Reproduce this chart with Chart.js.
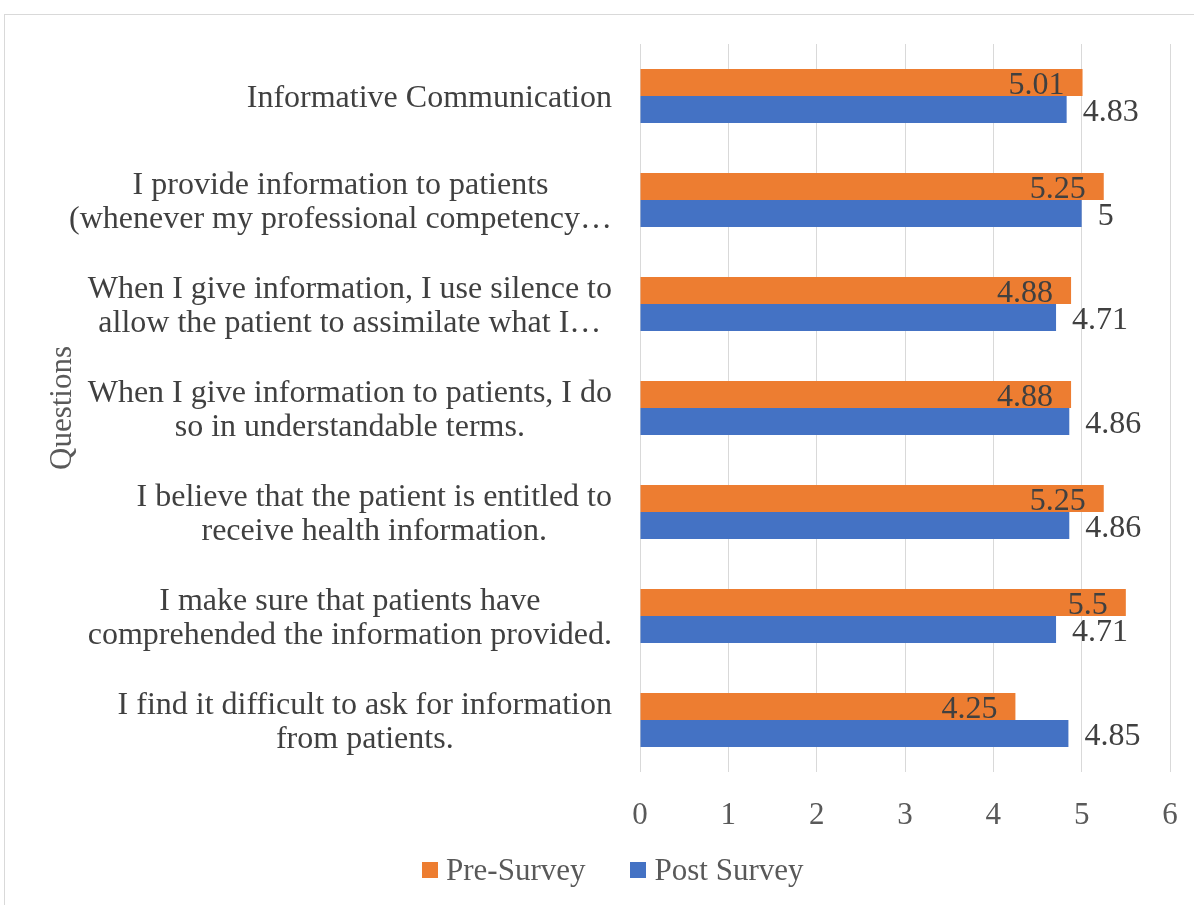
<!DOCTYPE html>
<html>
<head>
<meta charset="utf-8">
<script src="https://cdn.jsdelivr.net/npm/chart.js@4"></script>
<style>
  body { margin: 0; background: #fff; overflow: hidden; }
  #moldura { position: absolute; left: 4px; top: 14px; width: 1194px; height: 900px; border: 1px solid #d9d9d9; }
  #caixa { position: absolute; left: 0; top: 0; width: 1194px; height: 905px; }
  #legenda { position: absolute; left: 422px; top: 850px; height: 40px; display: flex; align-items: center;
             font: 31px "Liberation Serif", "Times New Roman", serif; color: #595959; white-space: nowrap; }
  #legenda .item { display: inline-flex; align-items: center; margin-right: 45px; }
  #legenda .item i { display: inline-block; width: 16px; height: 16px; margin-right: 8px; }
</style>
</head>
<body>
<div id="moldura"></div>
<div id="caixa"><canvas id="myChart"></canvas></div>
<div id="legenda"></div>
<script>
// Dados
var perguntas = [
  'Informative Communication',
  ['I provide information to patients', '(whenever my professional competency\u2026'],
  ['When I give information, I use silence to', 'allow the patient to assimilate what I\u2026'],
  ['When I give information to patients, I do', 'so in understandable terms.'],
  ['I believe that the patient is entitled to', 'receive health information.'],
  ['I make sure that patients have', 'comprehended the information provided.'],
  ['I find it difficult to ask for information', 'from patients.']
];
var preSurvey = [5.01, 5.25, 4.88, 4.88, 5.25, 5.5, 4.25];
var postSurvey = [4.83, 5, 4.71, 4.86, 4.86, 4.71, 4.85];
var ticksX = [0, 1, 2, 3, 4, 5, 6];

var fonte = '"Liberation Serif", "Times New Roman", serif';

// rotulos das perguntas, linhas centralizadas e bloco alinhado a direita
var rotulosPerguntas = {
  id: 'rotulosPerguntas',
  afterDraw: function(chart) {
    var ctx = chart.ctx;
    var eixo = chart.scales.y;
    var direita = chart.chartArea.left - 28;
    ctx.save();
    ctx.font = '32px ' + fonte;
    ctx.fillStyle = '#404040';
    ctx.textAlign = 'center';
    ctx.textBaseline = 'middle';
    perguntas.forEach(function(p, i) {
      var linhas = Array.isArray(p) ? p : [p];
      var largura = Math.max.apply(null, linhas.map(function(l) { return ctx.measureText(l).width; }));
      var cx = direita - largura / 2;
      var y0 = eixo.getPixelForValue(i) + 3 - (linhas.length - 1) * 34 / 2;
      linhas.forEach(function(l, k) { ctx.fillText(l, cx, y0 + k * 34); });
    });
    ctx.restore();
  }
};

// valores nas barras
var rotulosValores = {
  id: 'rotulosValores',
  afterDatasetsDraw: function(chart) {
    var ctx = chart.ctx;
    ctx.save();
    ctx.font = '32px ' + fonte;
    ctx.fillStyle = '#404040';
    ctx.textBaseline = 'middle';
    chart.data.datasets.forEach(function(ds, d) {
      chart.getDatasetMeta(d).data.forEach(function(barra, i) {
        var txt = String(ds.data[i]);
        if (d === 0) {
          ctx.textAlign = 'right';
          ctx.fillText(txt, barra.x - 18, barra.y + 3);
        } else {
          ctx.textAlign = 'left';
          ctx.fillText(txt, barra.x + 16, barra.y + 3);
        }
      });
    });
    ctx.restore();
  }
};

var ctx = document.getElementById('myChart').getContext('2d');
var myChart = new Chart(ctx, {
  type: 'bar',
  data: {
    labels: perguntas,
    datasets: [{
      label: 'Pre-Survey',
      data: preSurvey,
      backgroundColor: '#ED7D31',
      categoryPercentage: 0.52,
      barPercentage: 1
    }, {
      label: 'Post Survey',
      data: postSurvey,
      backgroundColor: '#4472C4',
      categoryPercentage: 0.52,
      barPercentage: 1
    }]
  },
  options: {
    indexAxis: 'y',
    responsive: true,
    maintainAspectRatio: false,
    animation: false,
    layout: { padding: { top: 44, right: 24, bottom: 60, left: 0 } },
    scales: {
      x: {
        min: ticksX[0],
        max: ticksX[ticksX.length - 1],
        ticks: {
          stepSize: 1,
          padding: 0,
          color: '#595959',
          font: { family: fonte, size: 31 }
        },
        grid: { color: '#d9d9d9', drawTicks: true, tickLength: 25, tickColor: 'rgba(0,0,0,0)' },
        border: { display: false },
        afterFit: function(scale) { scale.height = 73; }
      },
      y: {
        ticks: { display: false },
        grid: { display: false },
        border: { display: false },
        title: {
          display: true,
          text: 'Questions',
          color: '#595959',
          font: { family: fonte, size: 31 },
          padding: { top: 44, bottom: 0 }
        },
        afterFit: function(scale) { scale.width = 640; }
      }
    },
    plugins: {
      legend: { display: false },
      tooltip: { enabled: false }
    }
  },
  plugins: [rotulosPerguntas, rotulosValores]
});

// legenda em html
var legenda = document.getElementById('legenda');
myChart.data.datasets.forEach(function(ds) {
  var item = document.createElement('span');
  item.className = 'item';
  var caixa = document.createElement('i');
  caixa.style.background = ds.backgroundColor;
  item.appendChild(caixa);
  item.appendChild(document.createTextNode(ds.label));
  legenda.appendChild(item);
});
</script>
</body>
</html>
